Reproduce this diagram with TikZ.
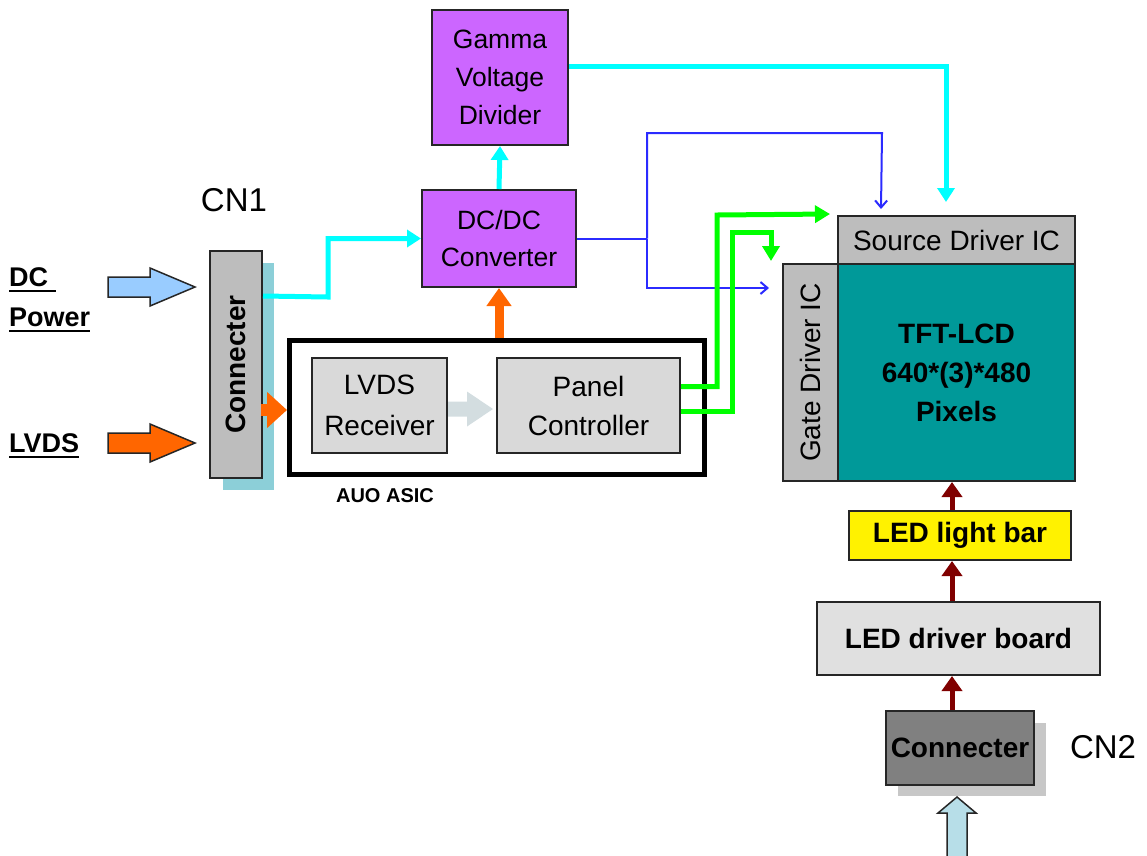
\documentclass[tikz,border=0pt]{standalone}
\usepackage{fontspec}
\setmainfont{Liberation Sans}
\usepackage{graphicx}
\usetikzlibrary{arrows.meta,calc}
\definecolor{purp}{HTML}{CC66FF}
\definecolor{cyn}{HTML}{00FFFF}
\definecolor{grn}{HTML}{00FF00}
\definecolor{blu}{HTML}{2B2BFF}
\definecolor{orng}{HTML}{FF6600}
\definecolor{dred}{HTML}{800000}
\definecolor{teal2}{HTML}{009999}
\definecolor{gbox}{HTML}{BDBDBD}
\definecolor{lgbox}{HTML}{D9D9D9}
\definecolor{shad1}{HTML}{8CCFD8}
\definecolor{dcblue}{HTML}{99CCFF}
\definecolor{botblue}{HTML}{B7DEE8}
\definecolor{garr}{HTML}{D3DDE0}
\newcommand\myul[1]{\setbox0\hbox{#1}\rlap{\rule[-6pt]{\wd0}{2.2pt}}\box0}
\begin{document}
\begin{tikzpicture}[x=1pt,y=-1pt,
  box/.style={draw=black!85, line width=2pt, inner sep=0pt, align=center},
  rtxt/.style={font=\fontsize{28}{39}\selectfont},
  ptxt/.style={font=\fontsize{26.5}{38}\selectfont},
  btxt/.style={font=\bfseries\fontsize{28}{39}\selectfont},
  lbl/.style={font=\bfseries\fontsize{27}{40}\selectfont, inner sep=0pt, align=left},
  cnlbl/.style={font=\fontsize{33}{40}\selectfont, inner sep=0pt},
  cyanline/.style={draw=cyn, line width=5pt, -{Triangle[width=17pt,length=14pt]}},
  greenline/.style={draw=grn, line width=5pt, -{Triangle[width=17pt,length=15pt]}},
  blueline/.style={draw=blu, line width=2pt},
  bluearrow/.style={blueline, -{Straight Barb[width=12pt,length=7pt]}},
  redarrow/.style={draw=dred, line width=5pt, -{Triangle[width=20pt,length=15pt]}},
  blockarrow/.style={draw=black!85, line width=1.5pt},
]
\useasboundingbox (0,0) rectangle (1147,855);

% ---- left inputs
\node[lbl, anchor=west] (dcp) at (9,300) {\myul{DC\ }\\\myul{Power}};
\node[lbl, anchor=west] (lvdsin) at (9,446) {\myul{LVDS}};
\draw[blockarrow, fill=dcblue] (108,277) -- (150,277) -- (150,268) -- (195,287) -- (150,306) -- (150,297) -- (108,297) -- cycle;
\draw[blockarrow, fill=orng] (108,433) -- (150,433) -- (150,424) -- (195,443) -- (150,462) -- (150,453) -- (108,453) -- cycle;

% ---- CN1 connector
\fill[shad1] (223,263) rectangle (274,490);
\node[box, fill=gbox, minimum width=52, minimum height=227] (conn1) at (236,364.5)
  {\rotatebox{90}{\bfseries\fontsize{28}{30}\selectfont Connecter}};
\node[cnlbl] (cn1) at (234,200) {CN1};

% ---- purple boxes
\node[box, ptxt, fill=purp, minimum width=136, minimum height=135] (gamma) at (500,77.5) {Gamma\\Voltage\\Divider};
\node[box, ptxt, fill=purp, minimum width=154, minimum height=97, font=\fontsize{26.5}{37}\selectfont] (dcdc) at (499,238.5) {DC/DC\\Converter};

% ---- ASIC
\node[draw=black, line width=5pt, minimum width=415, minimum height=134, inner sep=0pt] (asic) at (497,407.5) {};
\node[font=\bfseries\fontsize{20}{24}\selectfont, inner sep=0pt] (asiclbl) at (385,496) {AUO ASIC};
\node[box, fill=lgbox, minimum width=135, minimum height=95, font=\fontsize{28}{41}\selectfont] (lvdsr) at (379.5,405.5) {LVDS\\Receiver};
\node[box, fill=lgbox, minimum width=183, minimum height=95, font=\fontsize{28}{39}\selectfont] (panel) at (588.5,405.5) {Panel\\Controller};
\fill[garr] ($(lvdsr.east)+(0,-4)$) -- (467,401.5) -- (467,391.5) -- ($(panel.west)+(-3,3.5)$) -- (467,426.5) -- (467,416.5) -- ($(lvdsr.east)+(0,11)$) -- cycle;

% ---- panel
\node[box, fill=gbox, minimum width=237, minimum height=48, font=\fontsize{28}{30}\selectfont] (source) at (956.5,240) {Source Driver IC};
\node[box, fill=gbox, minimum width=55, minimum height=217] (gate) at (810.5,372.5)
  {\rotatebox{90}{\fontsize{28}{30}\selectfont Gate Driver IC}};
\node[box, btxt, fill=teal2, minimum width=237, minimum height=217] (tft) at (956.5,372.5) {TFT-LCD\\640*(3)*480\\Pixels};

% ---- LED chain
\node[box, btxt, fill=yellow, minimum width=222, minimum height=49] (ledbar) at (960,535.5) {LED light bar};
\node[box, btxt, fill=black!12, minimum width=283, minimum height=73] (ledboard) at (958.5,638.5) {LED driver board};
\fill[black!22] (898,723) rectangle (1046,796);
\node[box, btxt, fill=black!50, minimum width=148, minimum height=74] (conn2) at (960,748) {Connecter};
\node[cnlbl] (cn2) at (1103,747) {CN2};
\draw[blockarrow, fill=botblue] (947,860) -- (947,813) -- (938,813) -- ($(conn2.south)+(-3,11)$) -- (976,813) -- (967,813) -- (967,860) -- cycle;

\coordinate (ax) at (952,0);
\draw[redarrow] (ledbar.north -| ax) -- (tft.south -| ax);
\draw[redarrow] (ledboard.north -| ax) -- (ledbar.south -| ax);
\draw[redarrow] (conn2.north -| ax) -- (ledboard.south -| ax);

% ---- connectors
\draw[cyanline] ($(conn1.north east)+(0,46)$) -- (328,297) |- (dcdc.west);
\draw[cyanline] (dcdc.north) -- (gamma.south);
\draw[cyanline] ($(gamma.north east)+(0,57)$) -| ($(source.north west)+(109,-13)$);

\draw[blueline] (dcdc.east) -- (647,238.5);
\draw[bluearrow] (647,238.5) |- (882,133) -- ($(source.north west)+(44,-6)$);
\draw[bluearrow] (647,238.5) |- ($(gate.north west)+(-13,25)$);

\draw[greenline] ($(panel.east)+(0,-19)$) -| (717,215) -- ($(source.north west)+(-7,-1)$);
\draw[greenline] ($(panel.east)+(0,6)$) -| (732,232) -| ($(gate.north)+(-39.5,-2)$);

\draw[draw=orng, line width=9pt, -{Triangle[width=24pt,length=18pt]}] (dcdc.south |- asic.north) -- (dcdc.south);
\draw[draw=orng, line width=12pt, -{Triangle[width=35pt,length=20pt]}] ($(conn1.east)+(-2,45.5)$) -- (asic.west |- 0,410);
\end{tikzpicture}
\end{document}
